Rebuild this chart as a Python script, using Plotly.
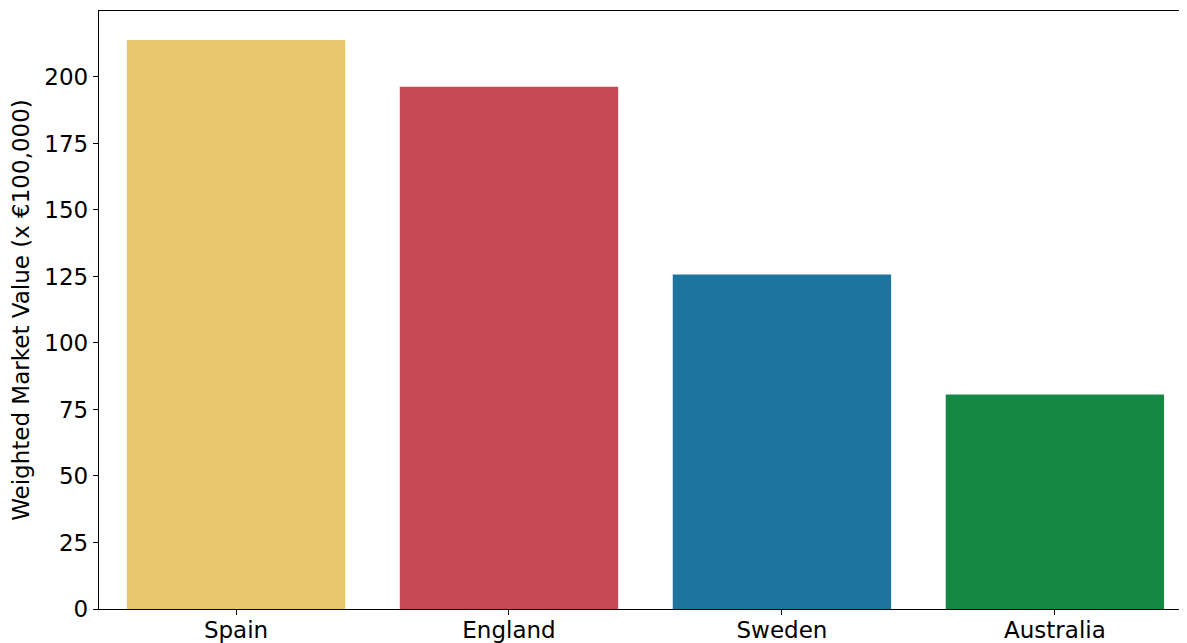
import plotly.graph_objects as go

countries = ["Spain", "England", "Sweden", "Australia"]
values = [213.9, 196.3, 125.7, 80.6]
colors = ["#E9C66B", "#C54955", "#1D759F", "#158944"]
y_ticks = [0, 25, 50, 75, 100, 125, 150, 175, 200]

fig = go.Figure(go.Bar(
    x=countries, y=values, marker=dict(color=colors, line=dict(width=0)),
    width=0.8,
))

font = dict(family="DejaVu Sans", size=23, color="black")
# page body has an 8px margin; figure sized/offset to compensate
fig.update_layout(
    width=1179, height=635,
    margin=dict(l=91, r=0, t=3, b=34),
    plot_bgcolor="white", paper_bgcolor="white",
    font=font, showlegend=False,
    xaxis=dict(
        range=[-0.502, 3.484], showgrid=False, zeroline=False, automargin=False,
        showline=True, linecolor="black", linewidth=1.3, mirror=True,
        ticks="outside", ticklen=5, tickwidth=1.3, tickcolor="black",
        tickfont=font, ticklabelstandoff=-5,
    ),
    yaxis=dict(
        range=[0, 224.8], showgrid=False, zeroline=False, automargin=False,
        showline=True, linecolor="black", linewidth=1.3,
        ticks="outside", ticklen=5, tickwidth=1.3, tickcolor="black",
        tickvals=y_ticks, tickfont=font,
        title=dict(text="Weighted Market Value (x €100,000)", font=font, standoff=8),
    ),
)

fig.write_html("out.html")
